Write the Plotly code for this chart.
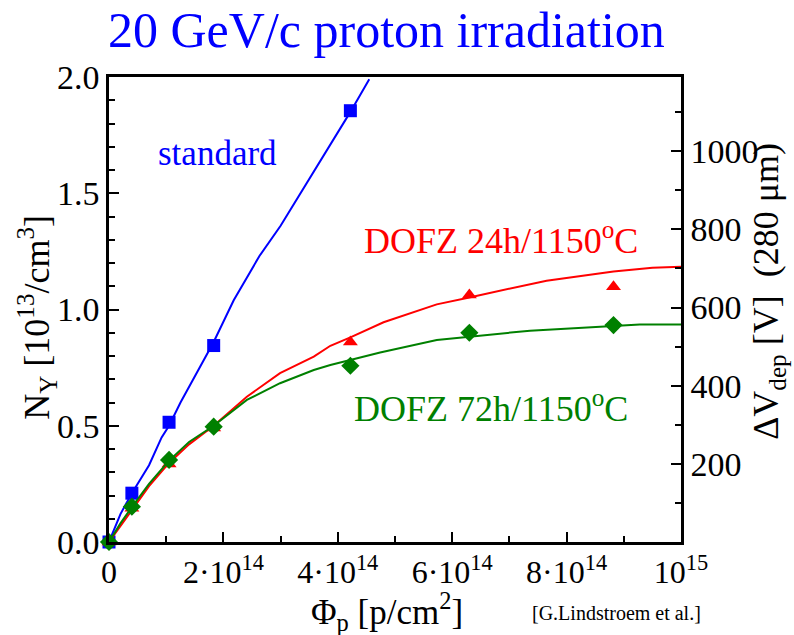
import plotly.graph_objects as go

# ---------------- data (x in units of 1e14 p/cm^2, y in 1e13 /cm^3) -------------
std_x = [0, 0.4, 1.05, 1.83, 4.22]
std_y = [0, 0.21, 0.515, 0.845, 1.855]

d24_x = [0, 0.4, 1.05, 1.83, 4.22, 6.30, 8.82]
d24_y = [0, 0.145, 0.335, 0.49, 0.86, 1.062, 1.098]

d72_x = [0, 0.4, 1.05, 1.83, 4.22, 6.30, 8.82]
d72_y = [0, 0.152, 0.353, 0.496, 0.758, 0.900, 0.933]

# fitted curves
std_fit_x = [0, 0.2, 0.4, 0.7, 0.92, 1.05, 1.25, 1.5, 1.83, 2.18, 2.63, 3.0, 3.35, 3.8, 4.22, 4.55]
std_fit_y = [0, 0.12, 0.21, 0.33, 0.45, 0.50, 0.60, 0.71, 0.86, 1.04, 1.23, 1.36, 1.50, 1.68, 1.85, 1.99]

d24_fit_x = [0, 0.2, 0.4, 0.7, 1.05, 1.4, 1.83, 2.41, 2.99, 3.58, 3.87, 4.22, 4.8, 5.73, 6.3, 7.65, 8.82, 9.5, 10]
d24_fit_y = [0, 0.07, 0.14, 0.24, 0.34, 0.42, 0.50, 0.625, 0.726, 0.797, 0.844, 0.88, 0.945, 1.022, 1.052, 1.124, 1.163, 1.18, 1.184]

d72_fit_x = [0, 0.2, 0.4, 0.7, 1.05, 1.4, 1.83, 2.41, 2.99, 3.58, 3.87, 4.22, 4.74, 5.73, 6.3, 7.36, 8.82, 9.28, 10]
d72_fit_y = [0, 0.08, 0.15, 0.25, 0.35, 0.43, 0.50, 0.611, 0.683, 0.740, 0.761, 0.783, 0.815, 0.869, 0.883, 0.909, 0.929, 0.936, 0.936]

x_tickvals = [0, 2, 4, 6, 8, 10]
x_ticktext = ["0", "2·10<sup>14</sup>", "4·10<sup>14</sup>", "6·10<sup>14</sup>", "8·10<sup>14</sup>", "10<sup>15</sup>"]
y_tickvals = [0, 0.5, 1.0, 1.5, 2.0]
y_ticktext = ["0.0", "0.5", "1.0", "1.5", "2.0"]
v_tickvals = [200, 400, 600, 800, 1000]
v_ticktext = ["200", "400", "600", "800", "1000"]
V_PER_UNIT = 595.0  # 280 um depletion voltage per 1e13 cm^-3

FONT = "Liberation Serif, Times New Roman, serif"
BLUE, RED, GREEN = "#0000ff", "#ff0000", "#008000"

fig = go.Figure()
series = [
    (std_fit_x, std_fit_y, std_x, std_y, BLUE, "square", 13),
    (d24_fit_x, d24_fit_y, d24_x, d24_y, RED, "triangle-up", 13),
    (d72_fit_x, d72_fit_y, d72_x, d72_y, GREEN, "diamond", 14),
]
for fx, fy, px, py, col, sym, sz in series:
    fig.add_trace(go.Scatter(x=fx, y=fy, mode="lines", line=dict(color=col, width=2),
                             showlegend=False, hoverinfo="skip", cliponaxis=True))
    fig.add_trace(go.Scatter(x=px, y=py, mode="markers",
                             marker=dict(symbol=sym, size=sz, color=col, line=dict(width=0)),
                             showlegend=False, cliponaxis=False))

# invisible trace to activate right axis
fig.add_trace(go.Scatter(x=[0], y=[0], yaxis="y2", mode="markers",
                         marker=dict(opacity=0), showlegend=False, hoverinfo="skip"))

axis_common = dict(showline=True, linecolor="black", linewidth=2.5, ticks="inside",
                   ticklen=10, tickwidth=2, tickcolor="black", showgrid=False, zeroline=False)
tf_big = dict(family=FONT, size=34, color="black")

fig.update_layout(
    width=794, height=635,
    margin=dict(l=109, r=113, t=77, b=93),
    plot_bgcolor="white", paper_bgcolor="white",
    xaxis=dict(range=[0, 10], tickmode="array", tickvals=x_tickvals, ticktext=x_ticktext,
               mirror=True, tickfont=dict(family=FONT, size=32, color="black"),
               minor=dict(ticks="inside", ticklen=6, tickwidth=2, tickcolor="black",
                          tickmode="array", tickvals=[1, 3, 5, 7, 9]),
               **axis_common),
    yaxis=dict(range=[0, 2.0], tickmode="array", tickvals=y_tickvals, ticktext=y_ticktext,
               tickfont=tf_big,
               minor=dict(ticks="inside", ticklen=6, tickwidth=2, tickcolor="black",
                          tickmode="array",
                          tickvals=[0.1, 0.2, 0.3, 0.4, 0.6, 0.7, 0.8, 0.9, 1.1, 1.2, 1.3, 1.4, 1.6, 1.7, 1.8, 1.9]),
               **axis_common),
    yaxis2=dict(range=[0, 2.0 * V_PER_UNIT], overlaying="y", side="right",
                tickmode="array", tickvals=v_tickvals, ticktext=v_ticktext, tickfont=tf_big,
                minor=dict(ticks="inside", ticklen=6, tickwidth=2, tickcolor="black",
                           tickmode="array", tickvals=[100, 300, 500, 700, 900, 1100]),
                **axis_common),
)

ann = []
ann.append(dict(text="20 GeV/c proton irradiation", xref="paper", yref="paper", x=0.486, y=1,
                yshift=47, showarrow=False, font=dict(family=FONT, size=50, color=BLUE),
                xanchor="center", yanchor="middle"))
ann.append(dict(text="N<sub>Y</sub> [10<sup>13</sup>/cm<sup>3</sup>]", xref="paper", yref="paper",
                x=0, xshift=-72, y=0.482, textangle=-90, showarrow=False,
                font=dict(family=FONT, size=36, color="black"), xanchor="center", yanchor="middle"))
ann.append(dict(text="ΔV<sub>dep</sub> [V]  (280 μm)", xref="paper", yref="paper",
                x=1, xshift=88, y=0.538, textangle=-90, showarrow=False,
                font=dict(family=FONT, size=36, color="black"), xanchor="center", yanchor="middle"))
ann.append(dict(text="Φ<sub>p</sub> [p/cm<sup>2</sup>]", xref="paper", yref="paper",
                x=0.486, y=0, yshift=-69, showarrow=False,
                font=dict(family=FONT, size=35, color="black"), xanchor="center", yanchor="middle"))
ann.append(dict(text="[G.Lindstroem et al.]", xref="paper", yref="paper",
                x=0.888, y=0, yshift=-71, showarrow=False,
                font=dict(family=FONT, size=20, color="black"), xanchor="center", yanchor="middle"))
ann.append(dict(text="standard", xref="x", yref="y", x=1.89, y=1.673, showarrow=False,
                font=dict(family=FONT, size=35, color=BLUE), xanchor="center", yanchor="middle"))
ann.append(dict(text="DOFZ 24h/1150<sup>o</sup>C", xref="x", yref="y", x=6.85, y=1.307, showarrow=False,
                font=dict(family=FONT, size=36, color=RED), xanchor="center", yanchor="middle"))
ann.append(dict(text="DOFZ 72h/1150<sup>o</sup>C", xref="x", yref="y", x=6.68, y=0.581, showarrow=False,
                font=dict(family=FONT, size=36, color=GREEN), xanchor="center", yanchor="middle"))
fig.update_layout(annotations=ann)

fig.write_html("out.html")
